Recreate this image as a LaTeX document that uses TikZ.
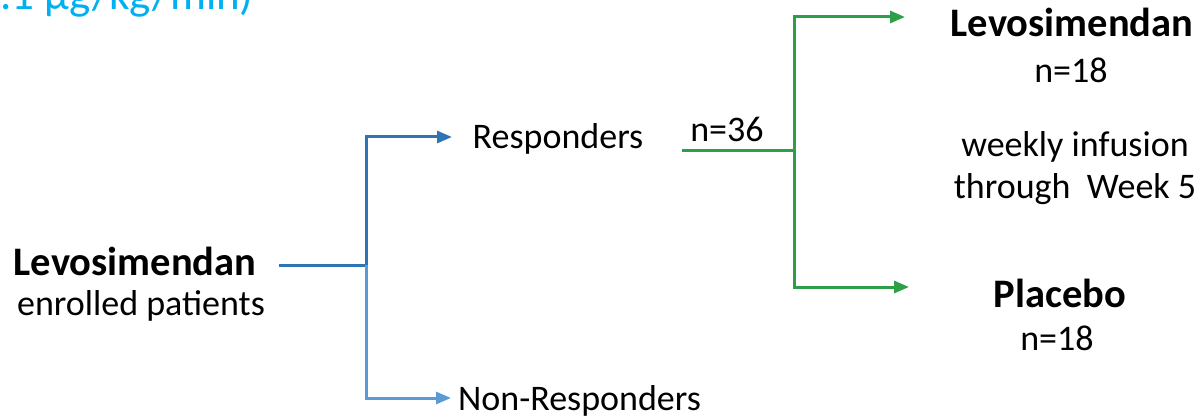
\documentclass[tikz,border=0pt]{standalone}
\usepackage{fontspec}
\setmainfont{Carlito}
\usetikzlibrary{arrows.meta}
\definecolor{respblue}{HTML}{2E75B6}
\definecolor{nonrespblue}{HTML}{5B9BD5}
\definecolor{randgreen}{HTML}{2CA048}
\definecolor{doseblue}{HTML}{00B0F0}

\begin{document}
\begin{tikzpicture}[x=1pt,y=-1pt,
                    plain text/.style={anchor=base,inner sep=0pt,font=\fontsize{36}{43}\selectfont},
                    arm text/.style={anchor=base,inner sep=0pt,font=\fontsize{40.5}{48}\selectfont\bfseries},
                    dose text/.style={anchor=base west,inner sep=0pt,text=doseblue,font=\fontsize{45}{54}\selectfont},
                    branch/.style={line width=3pt,-{Triangle[length=15pt,width=12pt]}},
                    trunk/.style={line width=3pt}]
    \path[use as bounding box] (0,0) rectangle (1204,417);

    \node[dose text] (dose) at (0,10) {.1 µg/kg/min)};

    \node[arm text] (levo left) at (135,275) {Levosimendan};
    \node[plain text] (enrolled) at (141,315) {enrolled patients};
    \node[plain text] (resp) at (558,148) {Responders};
    \node[plain text,anchor=base west] (nonresp) at (458,410) {Non-Responders};
    \node[plain text] (n36) at (727,142) {n=36};

    \node[arm text] (levo right) at (1072,37) {Levosimendan};
    \node[plain text] (levo n) at (1071,83) {n=18};
    \node[plain text] (weekly) at (1075,157) {weekly infusion};
    \node[plain text] (through) at (1075,198) {through\ \ Week 5};
    \node[arm text] (placebo) at (1060,307) {Placebo};
    \node[plain text] (placebo n) at (1057,350) {n=18};

    \coordinate (levo out) at (279,265);
    \coordinate (fork) at (366,265);
    \coordinate (resp tip) at (452,137);
    \coordinate (nonresp tip) at (451,398);
    \coordinate (resp out) at (682,150);
    \coordinate (split) at (794,150);
    \coordinate (levo tip) at (905,17);
    \coordinate (placebo tip) at (909,287);

    \draw[trunk,respblue] (levo out) -- (fork);
    \draw[branch,nonrespblue] (fork) |- (nonresp tip);
    \draw[branch,respblue] (fork) |- (resp tip);
    \draw[trunk,randgreen] (resp out) -- (split);
    \draw[branch,randgreen] (split) |- (levo tip);
    \draw[branch,randgreen] (split) |- (placebo tip);
\end{tikzpicture}
\end{document}
